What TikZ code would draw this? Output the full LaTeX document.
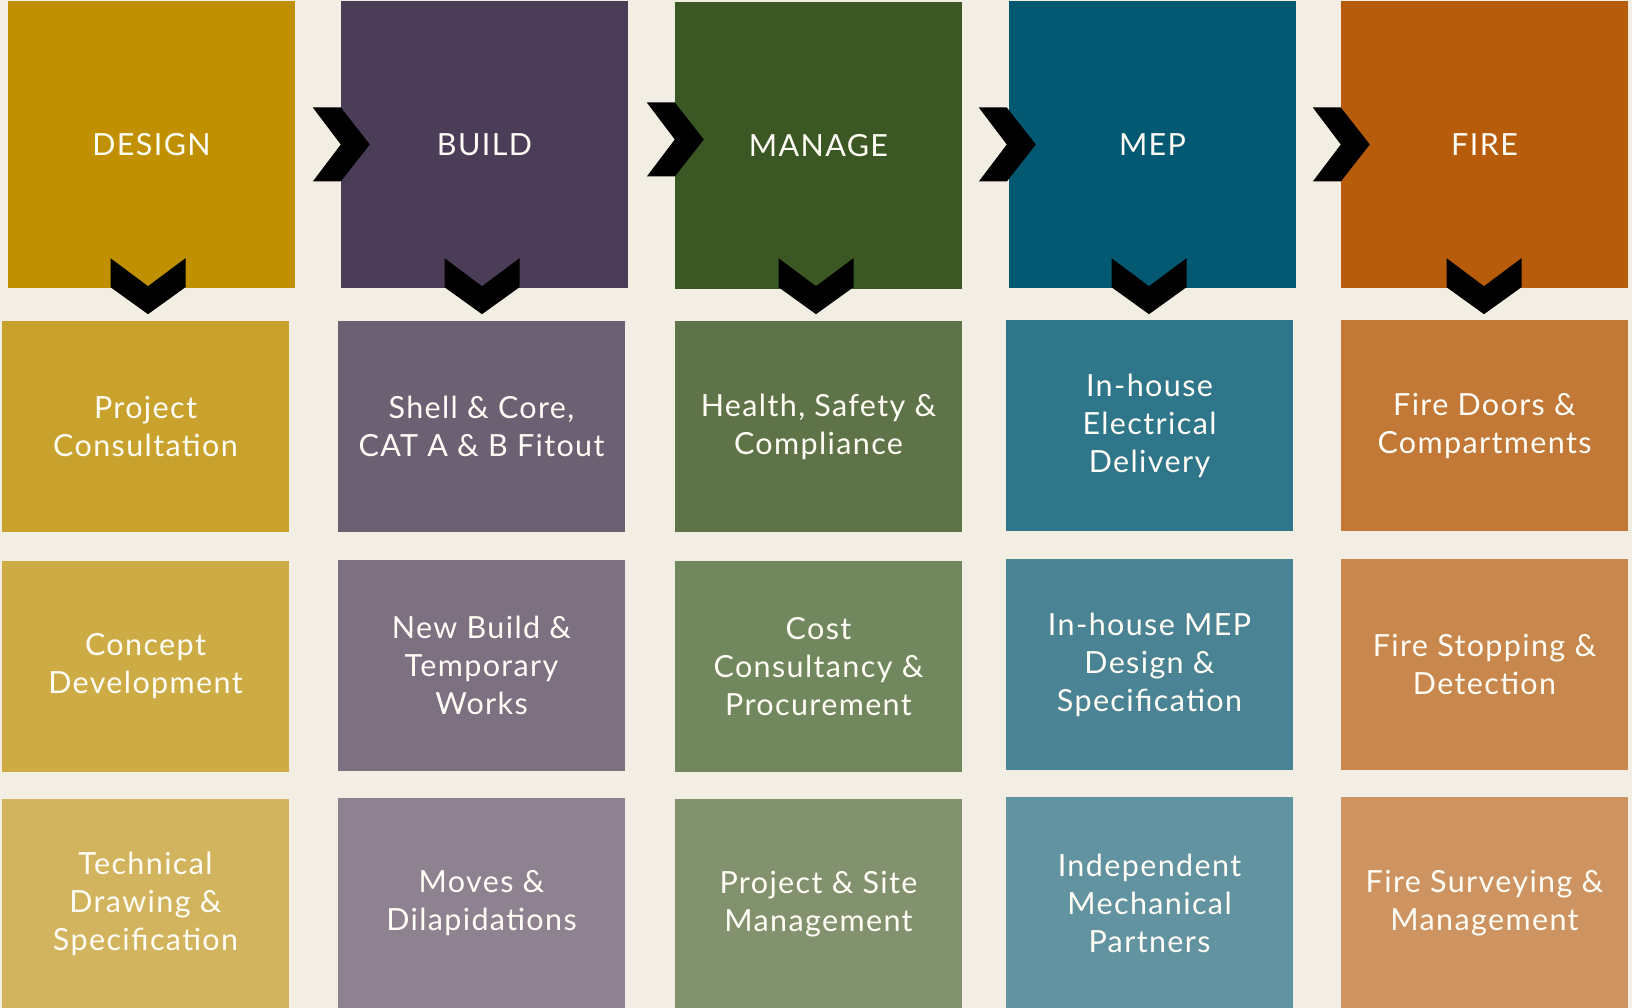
\documentclass[tikz,border=0pt]{standalone}
\usepackage{fontspec}
\setmainfont{Lato}[LetterSpace=4.5]
\usetikzlibrary{calc}
\definecolor{bg}{HTML}{F2EEE3}
\definecolor{txt}{HTML}{FFFDF6}
% top row
\definecolor{dA}{HTML}{C09000}
\definecolor{bA}{HTML}{4B3C58}
\definecolor{mA}{HTML}{3B5724}
\definecolor{eA}{HTML}{035872}
\definecolor{fA}{HTML}{B75C0B}
% row 1
\definecolor{dB}{HTML}{C9A22E}
\definecolor{bB}{HTML}{6C6073}
\definecolor{mB}{HTML}{5E7448}
\definecolor{eB}{HTML}{2F768A}
\definecolor{fB}{HTML}{C27836}
% row 2
\definecolor{dC}{HTML}{CEAC45}
\definecolor{bC}{HTML}{7D7081}
\definecolor{mC}{HTML}{71875D}
\definecolor{eC}{HTML}{4A8494}
\definecolor{fC}{HTML}{C8874D}
% row 3
\definecolor{dD}{HTML}{D3B45E}
\definecolor{bD}{HTML}{8E8290}
\definecolor{mD}{HTML}{82926E}
\definecolor{eD}{HTML}{6293A0}
\definecolor{fD}{HTML}{CD9462}
\tikzset{
  tile/.style={draw=none, inner sep=0pt, align=center, text=txt,
    font=\fontsize{30.5}{38}\selectfont, minimum width=287pt},
  headtile/.style={tile, minimum height=287pt},
  subtile/.style={tile, minimum height=211pt},
  rchev/.pic={\fill[black] (-28,-37) -- (0,-37) -- (29,0) -- (0,37) -- (-28,37) -- (0,0) -- cycle;},
  dchev/.pic={\fill[black] (-37.5,-28) -- (0,0) -- (37.5,-28) -- (37.5,1) -- (0,28) -- (-37.5,1) -- cycle;}
}
\begin{document}
\begin{tikzpicture}[x=1pt,y=-1pt]
\fill[bg] (0,0) rectangle (1632,1008);
\useasboundingbox (0,0) rectangle (1632,1008);

% header tiles
\node[headtile, fill=dA] (d0) at (151.5,144.5) {DESIGN};
\node[headtile, fill=bA] (b0) at (484.5,144.5) {BUILD};
\node[headtile, fill=mA] (m0) at (818.5,145.5) {MANAGE};
\node[headtile, fill=eA] (e0) at (1152.5,144.5) {MEP};
\node[headtile, fill=fA] (f0) at (1484.5,144.5) {FIRE};

% design column
\node[subtile, fill=dB] (d1) at (145.5,426.5) {Project\\Consultation};
\node[subtile, fill=dC] (d2) at (145.5,666.5) {Concept\\Development};
\node[subtile, fill=dD, minimum height=210pt] (d3) at (145.5,904) {Technical\\Drawing \&\\Specification};

% build column
\node[subtile, fill=bB] (b1) at (481.5,426.5) {Shell \& Core,\\CAT A \& B Fitout};
\node[subtile, fill=bC] (b2) at (481.5,665.5) {New Build \&\\Temporary\\Works};
\node[subtile, fill=bD, minimum height=211pt] (b3) at (481.5,903.5) {Moves \&\\Dilapidations};

% manage column
\node[subtile, fill=mB] (m1) at (818.5,426.5) {Health, Safety \&\\Compliance};
\node[subtile, fill=mC] (m2) at (818.5,666.5) {Cost\\Consultancy \&\\Procurement};
\node[subtile, fill=mD, minimum height=210pt] (m3) at (818.5,904) {Project \& Site\\Management};

% mep column
\node[subtile, fill=eB] (e1) at (1149.5,425.5) {In-house\\Electrical\\Delivery};
\node[subtile, fill=eC] (e2) at (1149.5,664.5) {In-house MEP\\Design \&\\Specification};
\node[subtile, fill=eD, minimum height=212pt] (e3) at (1149.5,903) {Independent\\Mechanical\\Partners};

% fire column
\node[subtile, fill=fB] (f1) at (1484.5,425.5) {Fire Doors \&\\Compartments};
\node[subtile, fill=fC] (f2) at (1484.5,664.5) {Fire Stopping \&\\Detection};
\node[subtile, fill=fD, minimum height=212pt] (f3) at (1484.5,903) {Fire Surveying \&\\Management};

% right chevrons between header tiles
\pic at (b0.west) {rchev};
\pic at ($(m0.west)+(0,-6)$) {rchev};
\pic at ($(e0.west)+(-2,0)$) {rchev};
\pic at (f0.west) {rchev};

% down chevrons under header tiles
\pic at ($(d0.south)+(-3.5,-2)$) {dchev};
\pic at ($(b0.south)+(-2.5,-2)$) {dchev};
\pic at ($(m0.south)+(-2.5,-3)$) {dchev};
\pic at ($(e0.south)+(-3.5,-2)$) {dchev};
\pic at ($(f0.south)+(-0.5,-2)$) {dchev};
\end{tikzpicture}
\end{document}
